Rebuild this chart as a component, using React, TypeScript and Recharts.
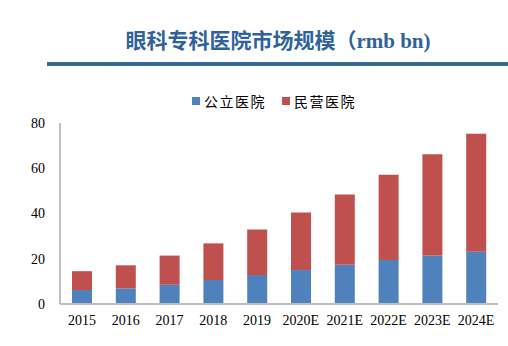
import React from "react"
import { BarChart, Bar, XAxis, YAxis } from "recharts"

const years = ["2015", "2016", "2017", "2018", "2019", "2020E", "2021E", "2022E", "2023E", "2024E"]
const publicHospitals = [6.2, 6.9, 8.5, 10.6, 12.8, 15.0, 17.3, 19.5, 21.4, 23.1]
const privateHospitals = [8.3, 10.2, 12.9, 16.2, 20.1, 25.4, 31.1, 37.6, 44.8, 52.1]
const yTicks = [0, 20, 40, 60, 80]

const seriesNames = { pub: "公立医院", pri: "民营医院" }
const BLUE = "#4f81bd"
const RED = "#c0504d"

const chartData = years.map((year, i) => ({
  year,
  pub: publicHospitals[i],
  pri: privateHospitals[i],
}))

// 图例自己画，位置好控制
const LegendContent = () => (
  <div
    style={{
      position: "absolute",
      top: 91,
      left: 40,
      width: 468,
      display: "flex",
      justifyContent: "center",
      alignItems: "center",
      fontFamily: "'Noto Sans CJK SC', sans-serif",
      fontSize: 14,
      lineHeight: "20px",
      letterSpacing: 1.5,
      color: "#000",
    }}
  >
    <span style={{ width: 8, height: 8, background: BLUE, display: "inline-block", marginRight: 4 }} />
    <span style={{ marginRight: 16 }}>{seriesNames.pub}</span>
    <span style={{ width: 8, height: 8, background: RED, display: "inline-block", marginRight: 4 }} />
    <span>{seriesNames.pri}</span>
  </div>
)

export default function App() {
  const tickStyle = { fontFamily: "'Liberation Serif', serif", fontSize: 14, fill: "#000" }
  return (
    <div style={{ position: "absolute", left: 0, top: 0, width: 508, height: 346, background: "#fff" }}>
      <div
        style={{
          position: "absolute",
          left: 0,
          width: 556,
          top: 26,
          textAlign: "center",
          fontFamily: "'Noto Sans CJK SC', sans-serif",
          fontWeight: 700,
          fontSize: 21,
          lineHeight: "26px",
          color: "#2f6299",
        }}
      >
        眼科专科医院市场规模（<span style={{ fontFamily: "'Liberation Serif', serif" }}>rmb bn)</span>
      </div>
      <div style={{ position: "absolute", left: 47, right: 0, top: 62, height: 4, background: "#336699" }} />
      <LegendContent />
      <div style={{ position: "absolute", left: 0, top: 0 }}>
        <BarChart width={508} height={346} data={chartData} margin={{ top: 123, right: 10, bottom: 12, left: 0 }} barSize={20}>
          <XAxis
            dataKey="year"
            tickLine={false}
            tickSize={0}
            tickMargin={11}
            height={30}
            axisLine={{ stroke: "#bfbfbf", strokeWidth: 2 }}
            tick={tickStyle}
            interval={0}
          />
          <YAxis
            domain={[0, 80]}
            ticks={yTicks}
            width={60}
            tickLine={false}
            tickSize={0}
            tickMargin={15}
            axisLine={{ stroke: "#bfbfbf", strokeWidth: 2 }}
            tick={tickStyle}
          />
          <Bar dataKey="pub" name={seriesNames.pub} stackId="a" fill={BLUE} isAnimationActive={false} />
          <Bar dataKey="pri" name={seriesNames.pri} stackId="a" fill={RED} isAnimationActive={false} />
        </BarChart>
      </div>
    </div>
  )
}
